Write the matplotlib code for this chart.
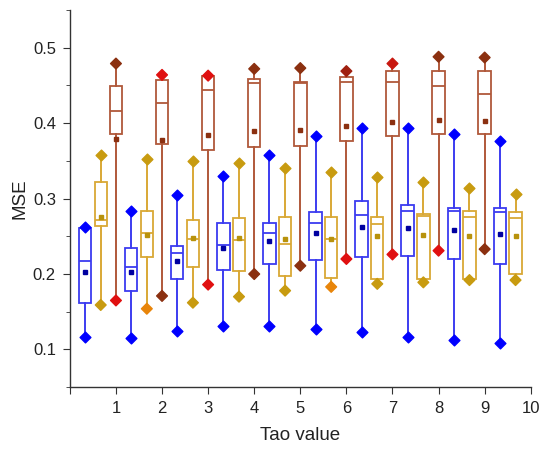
import matplotlib.pyplot as plt
import numpy as np

plt.rcParams['font.family'] = ['Liberation Sans', 'DejaVu Sans']

# DATA

tau = [1, 2, 3, 4, 5, 6, 7, 8, 9, 10]

# blue series
blue_max = [0.262, 0.284, 0.305, 0.330, 0.358, 0.383, 0.393, 0.393, 0.386, 0.377]
blue_q3 = [0.261, 0.235, 0.237, 0.268, 0.268, 0.282, 0.297, 0.291, 0.288, 0.287]
blue_med = [0.217, 0.209, 0.228, 0.239, 0.255, 0.268, 0.278, 0.283, 0.284, 0.282]
blue_mean = [0.203, 0.203, 0.217, 0.234, 0.244, 0.255, 0.263, 0.261, 0.258, 0.253]
blue_q1 = [0.162, 0.177, 0.193, 0.205, 0.213, 0.219, 0.223, 0.224, 0.220, 0.213]
blue_min = [0.116, 0.115, 0.124, 0.131, 0.131, 0.127, 0.123, 0.116, 0.112, 0.108]

# orange series
orange_max = [0.358, 0.352, 0.350, 0.347, 0.341, 0.335, 0.329, 0.322, 0.314, 0.306]
orange_q3 = [0.322, 0.283, 0.271, 0.274, 0.276, 0.275, 0.275, 0.279, 0.283, 0.282]
orange_med = [0.271, 0.254, 0.247, 0.245, 0.240, 0.246, 0.267, 0.277, 0.276, 0.274]
orange_mean = [0.275, 0.252, 0.248, 0.248, 0.246, 0.246, 0.250, 0.252, 0.251, 0.251]
orange_q1 = [0.264, 0.223, 0.209, 0.204, 0.198, 0.195, 0.193, 0.193, 0.194, 0.200]
orange_min = [0.159, 0.154, 0.162, 0.170, 0.178, 0.183, 0.187, 0.189, 0.192, 0.192]

# red series (no box at tau = 10)
red_max = [0.479, 0.464, 0.463, 0.472, 0.473, 0.469, 0.479, 0.488, 0.487]
red_q3 = [0.449, 0.457, 0.462, 0.459, 0.454, 0.461, 0.469, 0.469, 0.469]
red_med = [0.416, 0.427, 0.444, 0.453, 0.453, 0.454, 0.454, 0.449, 0.439]
red_mean = [0.379, 0.378, 0.384, 0.390, 0.391, 0.396, 0.402, 0.404, 0.403]
red_q1 = [0.385, 0.372, 0.365, 0.368, 0.370, 0.377, 0.383, 0.385, 0.385]
red_min = [0.165, 0.171, 0.186, 0.200, 0.211, 0.220, 0.226, 0.231, 0.233]

# colour of the end markers (which ones look darker / lighter)
orange_min_col = ['#C89B10', '#E8850A', '#C89B10', '#C89B10', '#C89B10',
                  '#E8850A', '#C89B10', '#C89B10', '#C89B10', '#C89B10']
red_max_col = ['#8B3010', '#E01010', '#E01010', '#8B3010', '#8B3010',
               '#A02010', '#C81810', '#8B3010', '#8B3010']
red_min_col = ['#E01010', '#8B3010', '#E01010', '#8B3010', '#8B3010',
               '#E01010', '#E01010', '#E01010', '#8B3010']


def make_stats(lo, q1, med, q3, hi, mean):
    stats = []
    for i in range(len(med)):
        stats.append({"whislo": lo[i], "q1": q1[i], "med": med[i],
                      "q3": q3[i], "whishi": hi[i], "mean": mean[i],
                      "fliers": []})
    return stats


def draw_boxes(ax, stats, pos, edge, mean_col):
    ax.bxp(stats, positions=pos, widths=0.27, showcaps=False,
           showmeans=True, showfliers=False, patch_artist=True,
           boxprops=dict(facecolor="white", edgecolor=edge, linewidth=1.3),
           medianprops=dict(color=edge, linewidth=1.3),
           whiskerprops=dict(color=edge, linewidth=1.4),
           meanprops=dict(marker="s", markersize=3.5, markerfacecolor=mean_col,
                          markeredgecolor=mean_col))


fig = plt.figure(figsize=(5.5, 4.55), dpi=100)
ax = fig.add_axes([0.127, 0.149, 0.838, 0.829])

t = np.array(tau, dtype=float)
blue_pos = t - 0.67
orange_pos = t - 0.33
red_pos = t[:len(red_med)]

draw_boxes(ax, make_stats(blue_min, blue_q1, blue_med, blue_q3, blue_max, blue_mean),
           blue_pos, "#3C3CF0", "#0000A0")
draw_boxes(ax, make_stats(orange_min, orange_q1, orange_med, orange_q3, orange_max, orange_mean),
           orange_pos, "#D9A835", "#B8920C")
draw_boxes(ax, make_stats(red_min, red_q1, red_med, red_q3, red_max, red_mean),
           red_pos, "#B0583A", "#8B3010")

# diamond markers at the whisker ends
ax.scatter(blue_pos, blue_max, marker="D", s=30, color="#0000FF", zorder=4)
ax.scatter(blue_pos, blue_min, marker="D", s=30, color="#0000FF", zorder=4)
ax.scatter(orange_pos, orange_max, marker="D", s=30, color="#C89B10", zorder=4)
ax.scatter(orange_pos, orange_min, marker="D", s=30, color=orange_min_col, zorder=4)
ax.scatter(red_pos, red_max, marker="D", s=30, color=red_max_col, zorder=4)
ax.scatter(red_pos, red_min, marker="D", s=30, color=red_min_col, zorder=4)

# AXES

ax.set_xlim(0, 10)
ax.set_ylim(0.05, 0.55)
ax.set_xticks(range(0, 11))
ax.set_xticklabels([""] + [str(i) for i in range(1, 11)])
ax.set_yticks([0.1, 0.2, 0.3, 0.4, 0.5])
ax.set_yticklabels(["0.1", "0.2", "0.3", "0.4", "0.5"])
ax.set_yticks([0.05, 0.15, 0.25, 0.35, 0.45, 0.55], minor=True)

for side in ["top", "right"]:
    ax.spines[side].set_visible(False)
for side in ["left", "bottom"]:
    ax.spines[side].set_color("#333333")
    ax.spines[side].set_linewidth(1.0)

ax.tick_params(axis="both", which="major", direction="out", length=5,
               color="#333333", labelsize=12, labelcolor="#222222", pad=5)
ax.tick_params(axis="y", which="minor", direction="out", length=3, color="#333333")

ax.set_xlabel("Tao value", fontsize=13.5, color="#222222", labelpad=8)
ax.set_ylabel("MSE", fontsize=13.5, color="#222222", labelpad=3)

plt.savefig("out.png", dpi=100)
